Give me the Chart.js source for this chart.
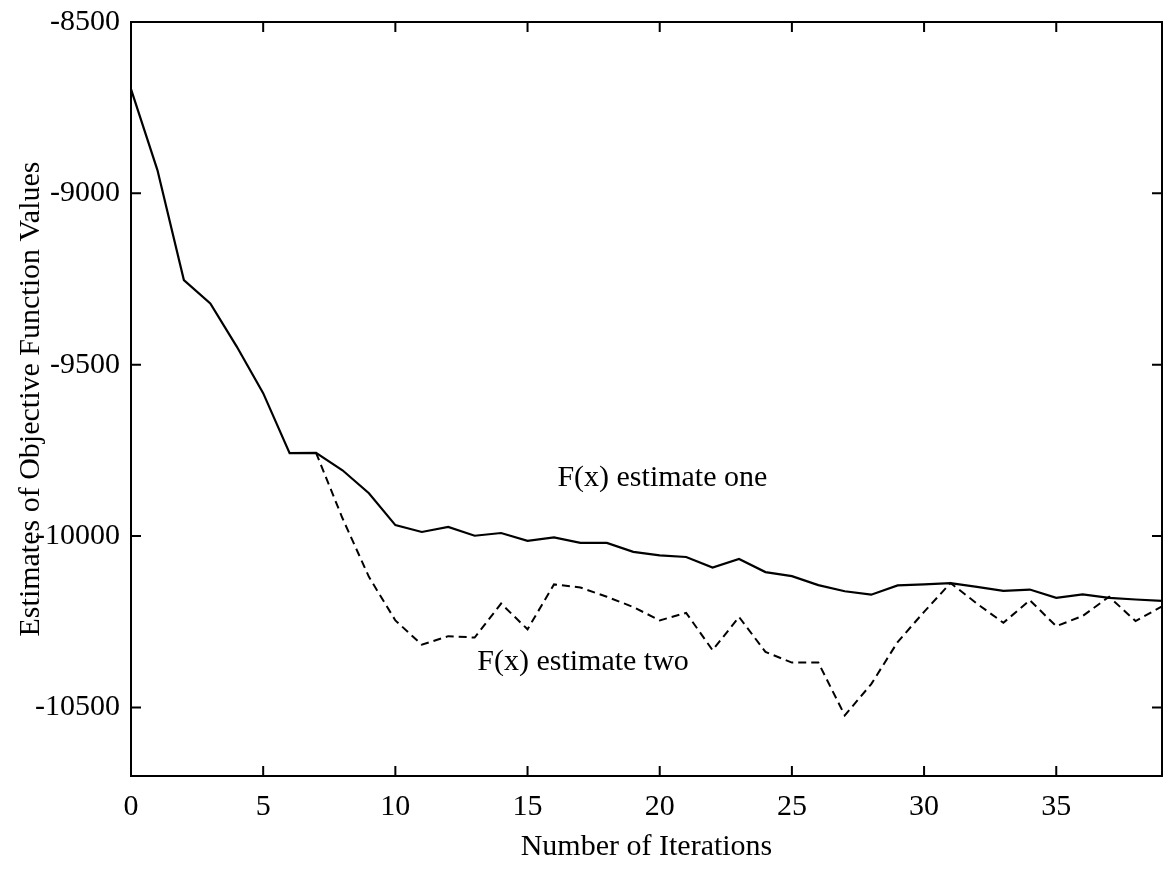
<!DOCTYPE html>
<html>
<head>
<meta charset="utf-8">
<script src="https://cdn.jsdelivr.net/npm/chart.js@4"></script>
<style>
  html, body { margin: 0; padding: 0; background: #fff; }
  #wrap { width: 1163px; height: 882px; }
</style>
</head>
<body>
<div id="wrap"><canvas id="iterChart" width="1163" height="882"></canvas></div>
<script>
// iterations 0..39
var iterations = [];
for (var i = 0; i <= 39; i++) iterations.push(i);

// F(x) estimate one (solid)
var estimateOne = [-8696, -8932, -9253, -9321, -9447, -9583, -9758, -9757, -9808, -9875,
                   -9968, -9988, -9973, -9999, -9991, -10014, -10004, -10020, -10020, -10046,
                   -10056, -10061, -10092, -10067, -10105, -10117, -10143, -10161, -10171, -10144,
                   -10141, -10137, -10148, -10160, -10156, -10180, -10170, -10180, -10185, -10189];

// F(x) estimate two (dashed), starts where it splits off at iteration 7
var estimateTwo = [null, null, null, null, null, null, null, -9757, -9948, -10119,
                   -10246, -10317, -10292, -10296, -10197, -10272, -10141, -10150, -10177, -10207,
                   -10246, -10224, -10333, -10236, -10338, -10369, -10369, -10523, -10432, -10309,
                   -10221, -10137, -10197, -10253, -10187, -10263, -10233, -10177, -10248, -10205];

var xTicks = [0, 5, 10, 15, 20, 25, 30, 35];
var yTicks = [-8500, -9000, -9500, -10000, -10500];

// text labels inside the plot: [text, x, y] in data units
var curveLabels = [
    ["F(x) estimate one", 20.1, -9831],
    ["F(x) estimate two", 17.1, -10368]
];

var serif = "'Liberation Serif', 'DejaVu Serif', serif";

// 프레임 + 안쪽 눈금 + 곡선 라벨
var framePlugin = {
    id: "frame",
    afterDraw: function (chart) {
        var c = chart.ctx, a = chart.chartArea;
        var xs = chart.scales.x, ys = chart.scales.y;
        var tl = 10;
        c.save();
        c.strokeStyle = "#000";
        c.lineWidth = 2;
        c.strokeRect(a.left, a.top, a.right - a.left, a.bottom - a.top);
        c.beginPath();
        xTicks.forEach(function (v) {
            var px = xs.getPixelForValue(v);
            c.moveTo(px, a.bottom); c.lineTo(px, a.bottom - tl);
            c.moveTo(px, a.top); c.lineTo(px, a.top + tl);
        });
        yTicks.forEach(function (v) {
            var py = ys.getPixelForValue(v);
            c.moveTo(a.left, py); c.lineTo(a.left + tl, py);
            c.moveTo(a.right, py); c.lineTo(a.right - tl, py);
        });
        c.stroke();

        c.fillStyle = "#000";
        c.font = "30px " + serif;
        c.textAlign = "center";
        c.textBaseline = "middle";
        curveLabels.forEach(function (l) {
            c.fillText(l[0], xs.getPixelForValue(l[1]), ys.getPixelForValue(l[2]));
        });
        c.restore();
    }
};

var ctx = document.getElementById("iterChart").getContext("2d");
var iterChart = new Chart(ctx, {
    type: "line",
    data: {
        labels: iterations,
        datasets: [
            {
                label: "F(x) estimate one",
                data: estimateOne,
                borderColor: "#000",
                borderWidth: 2.2,
                pointRadius: 0,
                tension: 0,
                fill: false
            },
            {
                label: "F(x) estimate two",
                data: estimateTwo,
                borderColor: "#000",
                borderWidth: 2,
                borderDash: [8, 5],
                pointRadius: 0,
                tension: 0,
                fill: false,
                spanGaps: false
            }
        ]
    },
    options: {
        responsive: false,
        animation: false,
        layout: { padding: { top: 22, right: 1, left: 0, bottom: 0 } },
        plugins: {
            legend: { display: false },
            tooltip: { enabled: false }
        },
        scales: {
            x: {
                type: "linear",
                min: 0,
                max: 39,
                grid: { display: false, drawTicks: false },
                border: { display: false },
                afterBuildTicks: function (s) { s.ticks = xTicks.map(function (v) { return { value: v }; }); },
                afterFit: function (s) { s.height = 106; s.paddingLeft = 0; s.paddingRight = 0; },
                ticks: {
                    color: "#000",
                    font: { family: serif, size: 30 },
                    padding: 13,
                    maxRotation: 0,
                    autoSkip: false
                },
                title: {
                    display: true,
                    text: "Number of Iterations",
                    color: "#000",
                    font: { family: serif, size: 30 },
                    padding: { top: 0, bottom: 17 }
                }
            },
            y: {
                min: -10700,
                max: -8500,
                grid: { display: false, drawTicks: false },
                border: { display: false },
                afterBuildTicks: function (s) { s.ticks = yTicks.map(function (v) { return { value: v }; }); },
                afterFit: function (s) { s.width = 131; s.paddingTop = 0; s.paddingBottom = 0; },
                ticks: {
                    color: "#000",
                    font: { family: serif, size: 30 },
                    padding: 11,
                    autoSkip: false,
                    callback: function (v) { return String(v); }
                },
                title: {
                    display: true,
                    text: "Estimates of Objective Function Values",
                    color: "#000",
                    font: { family: serif, size: 30 },
                    padding: { top: 13, bottom: 0 }
                }
            }
        }
    },
    plugins: [framePlugin]
});
</script>
</body>
</html>
